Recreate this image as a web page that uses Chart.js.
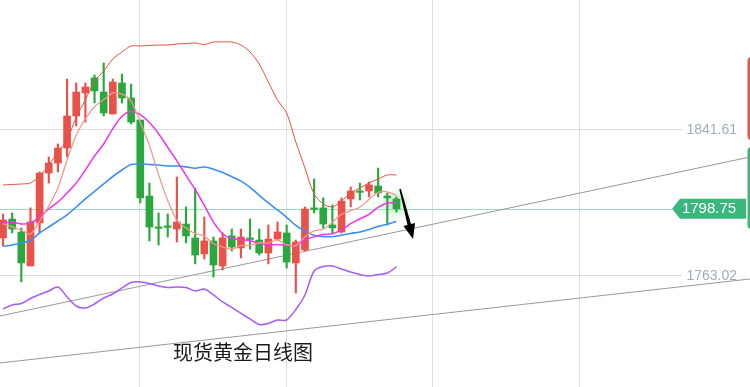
<!DOCTYPE html>
<html><head><meta charset="utf-8">
<script src="https://cdn.jsdelivr.net/npm/chart.js@4.4.0/dist/chart.umd.min.js"></script>
<style>
html,body{margin:0;padding:0;background:#fff;}
#wrap{position:relative;width:750px;height:387px;overflow:hidden;}
#title{position:absolute;left:173px;top:342px;font:20px/20px "Noto Sans CJK SC",sans-serif;color:#1a1a1a;white-space:nowrap;}
</style></head><body>
<div id="wrap"><canvas id="c" width="750" height="387"></canvas><div id="title">现货黄金日线图</div></div>
<script>
// ---- data (price units) ----
const opens  = [1783.0,1793.2,1786.2,1767.9,1791.1,1818.0,1823.4,1831.5,1848.8,1861.2,1869.3,1861.7,1849.9,1866.6,1858.5,1846.6,1805.6,1788.6,1789.1,1787.8,1790.5,1783.0,1774.4,1781.4,1767.9,1784.1,1777.6,1782.6,1781.9,1774.9,1782.4,1785.7,1769.5,1776.5,1798.9,1799.2,1790.0,1786.2,1804.0,1808.0,1808.3,1811.0,1805.6,1804.0];
const highs  = [1795.9,1796.5,1788.4,1799.2,1818.6,1826.7,1833.7,1868.7,1866.6,1866.6,1870.9,1877.4,1868.7,1871.4,1866.0,1846.6,1812.6,1796.5,1795.9,1815.9,1799.7,1809.9,1794.3,1783.5,1785.7,1787.8,1787.8,1793.2,1787.8,1790.0,1791.6,1790.0,1781.9,1799.7,1814.8,1804.6,1800.8,1804.6,1810.5,1812.6,1813.2,1820.7,1807.3,1805.1];
const lows   = [1778.7,1785.7,1759.3,1767.9,1785.7,1812.6,1818.6,1826.7,1843.4,1845.5,1855.8,1848.8,1849.9,1855.8,1844.5,1801.9,1781.4,1779.2,1783.5,1780.8,1780.3,1769.0,1771.7,1761.9,1765.7,1776.0,1772.2,1777.0,1773.8,1769.0,1781.9,1766.8,1753.3,1776.0,1796.5,1788.4,1785.7,1785.7,1799.7,1803.5,1805.1,1805.1,1790.0,1797.0];
const closes = [1792.7,1787.8,1769.5,1791.6,1818.0,1823.4,1831.5,1848.8,1861.7,1864.4,1862.3,1850.4,1867.1,1858.5,1845.5,1804.6,1788.9,1788.2,1788.7,1791.6,1784.1,1773.8,1781.4,1768.4,1783.0,1778.1,1783.5,1782.2,1774.9,1782.4,1786.2,1770.0,1780.8,1798.6,1798.4,1790.5,1788.4,1802.9,1808.3,1807.6,1811.6,1807.3,1804.6,1798.75];
const upperBand = [1811.57,1811.84,1812.11,1812.65,1816.42,1822.37,1829.37,1835.84,1848.24,1857.41,1867.66,1873.05,1879.53,1883.30,1886.54,1886.54,1886.81,1887.08,1887.08,1887.62,1887.89,1888.16,1887.35,1888.70,1888.70,1888.70,1887.08,1883.30,1876.83,1867.12,1857.41,1850.40,1834.76,1820.74,1806.71,1801.32,1799.70,1802.94,1807.25,1809.95,1812.65,1814.80,1816.96,1816.96];
const ma5 = [1790.53,1788.91,1787.29,1785.14,1792.15,1800.24,1809.95,1825.05,1838.54,1847.16,1853.75,1857.52,1861.19,1860.54,1856.77,1845.22,1832.92,1817.18,1803.26,1792.47,1788.37,1785.35,1783.95,1779.85,1778.13,1776.94,1778.88,1779.10,1780.39,1780.28,1781.90,1779.20,1778.88,1783.63,1786.86,1787.73,1791.39,1795.82,1797.76,1799.59,1803.80,1807.58,1807.90,1805.96];
const ma10 = [1791.07,1791.61,1790.53,1791.07,1794.31,1798.62,1802.40,1807.25,1812.65,1819.66,1827.21,1833.68,1841.93,1848.62,1851.37,1849.48,1845.22,1839.18,1831.90,1824.62,1816.80,1809.14,1800.56,1791.56,1785.30,1782.66,1782.12,1781.52,1780.12,1779.20,1779.42,1779.04,1778.99,1782.01,1783.57,1784.81,1785.30,1787.35,1790.69,1793.23,1795.76,1799.49,1801.86,1801.86];
const ma20 = [1778.39,1779.20,1780.28,1781.63,1785.68,1788.91,1792.15,1795.39,1799.70,1804.02,1808.06,1812.11,1816.15,1819.66,1822.62,1822.89,1822.62,1822.35,1821.81,1821.81,1821.33,1820.63,1821.28,1820.09,1818.31,1816.04,1813.67,1810.33,1806.01,1801.91,1798.08,1794.09,1789.78,1786.76,1784.44,1783.73,1783.68,1784.44,1785.41,1786.22,1787.56,1789.24,1790.42,1791.93];
const lowerBand = [1744.68,1746.84,1747.65,1750.35,1752.51,1754.39,1756.55,1751.16,1746.30,1745.22,1747.38,1750.62,1752.78,1756.01,1758.98,1759.25,1758.44,1757.09,1756.28,1756.55,1756.28,1754.39,1755.47,1752.24,1748.46,1745.49,1742.26,1739.29,1736.32,1736.86,1738.75,1738.75,1744.41,1752.24,1765.18,1767.61,1767.88,1766.26,1764.64,1763.29,1762.48,1763.29,1764.10,1767.34];
const priceTicks = [1763.02, 1841.61];
const lastPrice = 1798.75;
const trendLine1 = [[-0.33, 1740.9], [81.64, 1826.67]];
const trendLine2 = [[-0.33, 1715.56], [81.64, 1760.87]];
const arrowPts = [[43.39, 1809.41], [44.81, 1782.44]];
const gridIdx = [14.9, 30.9, 46.9, 62.9];
const xRange = [-0.33, 81.64];
const yRange = [1702.6, 1911.35];

// ---- styles ----
const UP = '#e8524a', DOWN = '#29a83d';
const idx = closes.map((_, i) => i);
const candleColors = closes.map((c, i) => c >= opens[i] ? UP : DOWN);
const toXY = arr => arr.map((v, i) => ({x: i, y: v}));
const pairXY = arr => arr.map(p => ({x: p[0], y: p[1]}));

function lineDs(data, color, w, order) {
  return {type: 'line', data: toXY(data), borderColor: color, borderWidth: w, pointRadius: 0,
          tension: 0.3, fill: false, order: order};
}

const overlay = {
  id: 'overlay',
  beforeDatasetsDraw(chart) {
    const ctx = chart.ctx, y = chart.scales.y, x = chart.scales.x;
    ctx.save();
    // vertical grid
    ctx.strokeStyle = '#e0e0e0'; ctx.lineWidth = 1;
    gridIdx.forEach(v => {
      const px = Math.round(x.getPixelForValue(v)) + 0.5;
      ctx.beginPath(); ctx.moveTo(px, 0); ctx.lineTo(px, 387); ctx.stroke();
    });
    // horizontal price lines + labels
    ctx.strokeStyle = '#dcdcdc';
    ctx.fillStyle = '#a6aab3'; ctx.font = '14px "Liberation Sans", Arial, sans-serif';
    ctx.textAlign = 'right'; ctx.textBaseline = 'middle';
    priceTicks.forEach(v => {
      const py = Math.round(y.getPixelForValue(v)) + 0.5;
      ctx.beginPath(); ctx.moveTo(0, py); ctx.lineTo(682, py); ctx.stroke();
      ctx.fillText(v.toFixed(2), 737, py + 0.5);
    });
    // last price line
    const ly = Math.round(y.getPixelForValue(lastPrice)) + 0.5;
    ctx.strokeStyle = '#9fdcbf';
    ctx.beginPath(); ctx.moveTo(0, ly); ctx.lineTo(672, ly); ctx.stroke();
    // glow around last candle
    const li = closes.length - 1;
    const gx = x.getPixelForValue(li), gy = y.getPixelForValue((opens[li] + closes[li]) / 2);
    const g = ctx.createRadialGradient(gx, gy, 0, gx, gy, 16);
    g.addColorStop(0, 'rgba(90,210,110,0.45)');
    g.addColorStop(1, 'rgba(90,210,110,0)');
    ctx.fillStyle = g;
    ctx.beginPath(); ctx.arc(gx, gy, 16, 0, Math.PI * 2); ctx.fill();
    ctx.restore();
  },
  afterDraw(chart) {
    const ctx = chart.ctx, y = chart.scales.y, x = chart.scales.x;
    ctx.save();
    // arrow (tapered shaft + head)
    const x1 = x.getPixelForValue(arrowPts[0][0]), y1 = y.getPixelForValue(arrowPts[0][1]);
    const x2 = x.getPixelForValue(arrowPts[1][0]), y2 = y.getPixelForValue(arrowPts[1][1]);
    const ang = Math.atan2(y2 - y1, x2 - x1);
    const sn = Math.sin(ang), cs = Math.cos(ang);
    const hl = 15, hw = 6;
    const bx = x2 - hl * cs, by = y2 - hl * sn;
    ctx.fillStyle = '#000';
    ctx.beginPath();
    ctx.moveTo(x1 + 0.8 * sn, y1 - 0.8 * cs);
    ctx.lineTo(bx + 1.8 * sn, by - 1.8 * cs);
    ctx.lineTo(bx + hw * sn, by - hw * cs);
    ctx.lineTo(x2, y2);
    ctx.lineTo(bx - hw * sn, by + hw * cs);
    ctx.lineTo(bx - 1.8 * sn, by + 1.8 * cs);
    ctx.lineTo(x1 - 0.8 * sn, y1 + 0.8 * cs);
    ctx.closePath(); ctx.fill();
    // last price tag
    const ly = y.getPixelForValue(lastPrice);
    ctx.fillStyle = '#3bb77e';
    ctx.beginPath();
    ctx.moveTo(672, ly); ctx.lineTo(680, ly - 10); ctx.lineTo(746, ly - 10);
    ctx.lineTo(746, ly + 10); ctx.lineTo(680, ly + 10); ctx.closePath(); ctx.fill();
    ctx.fillStyle = '#fff'; ctx.font = '15px "Liberation Sans", Arial, sans-serif';
    ctx.textAlign = 'center'; ctx.textBaseline = 'middle';
    ctx.fillText(lastPrice.toFixed(2), 709, ly + 0.5);
    // right edge buttons
    function rr(x0, y0, w, h, r, col) {
      ctx.fillStyle = col; ctx.beginPath();
      ctx.moveTo(x0 + r, y0); ctx.lineTo(x0 + w - r, y0); ctx.quadraticCurveTo(x0 + w, y0, x0 + w, y0 + r);
      ctx.lineTo(x0 + w, y0 + h - r); ctx.quadraticCurveTo(x0 + w, y0 + h, x0 + w - r, y0 + h);
      ctx.lineTo(x0 + r, y0 + h); ctx.quadraticCurveTo(x0, y0 + h, x0, y0 + h - r);
      ctx.lineTo(x0, y0 + r); ctx.quadraticCurveTo(x0, y0, x0 + r, y0); ctx.fill();
    }
    rr(747.5, 57, 12, 83, 4, '#e8564f');
    rr(747.5, 147, 12, 82, 4, '#3bb77e');
    ctx.restore();
  }
};

new Chart(document.getElementById('c'), {
  type: 'bar',
  data: {
    datasets: [
      lineDs(upperBand, '#e4503f', 1, 0),
      lineDs(ma5, '#f5978f', 1.3, 0),
      lineDs(ma10, '#f233ee', 1.5, 0),
      lineDs(ma20, '#3d8ef2', 1.6, 0),
      lineDs(lowerBand, '#a65cf7', 1.5, 0),
      {type: 'bar', data: idx.map(i => ({x: i, y: [opens[i], closes[i]]})), backgroundColor: candleColors,
       barThickness: 7, minBarLength: 1.5, grouped: false, order: 1},
      {type: 'bar', data: idx.map(i => ({x: i, y: [lows[i], highs[i]]})), backgroundColor: candleColors,
       barThickness: 1.5, grouped: false, order: 2},
      {type: 'line', data: pairXY(trendLine1), borderColor: '#999', borderWidth: 1, pointRadius: 0, order: 3},
      {type: 'line', data: pairXY(trendLine2), borderColor: '#999', borderWidth: 1, pointRadius: 0, order: 3}
    ]
  },
  options: {
    responsive: false, animation: false, events: [],
    layout: {padding: 0},
    plugins: {legend: {display: false}, tooltip: {enabled: false}, title: {display: false}},
    scales: {
      x: {type: 'linear', display: false, min: xRange[0], max: xRange[1], offset: false},
      y: {type: 'linear', display: false, min: yRange[0], max: yRange[1]}
    }
  },
  plugins: [overlay]
});
</script>
</body></html>
